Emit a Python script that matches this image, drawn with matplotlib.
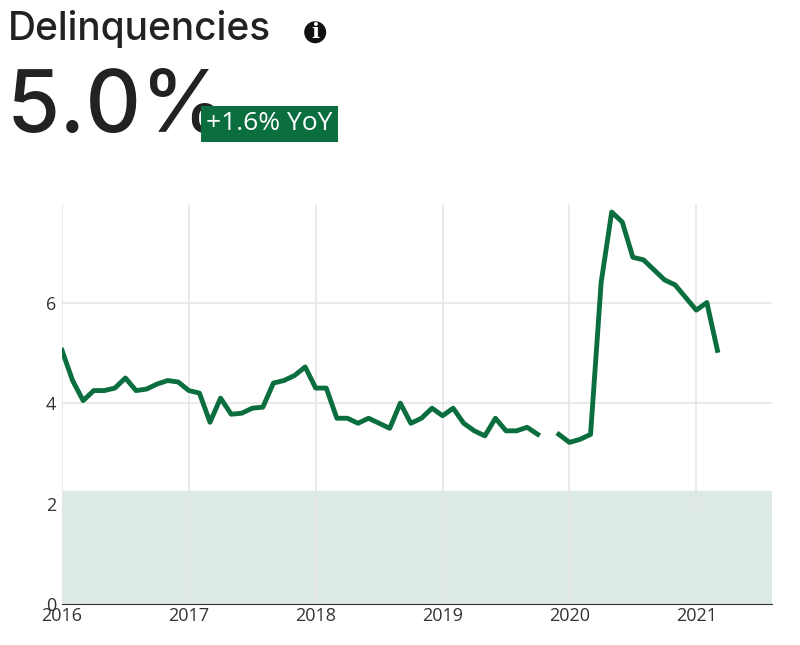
import numpy as np
import matplotlib
matplotlib.use("Agg")
import matplotlib.pyplot as plt
from matplotlib.patches import Circle

plt.rcParams['font.family'] = ['Open Sans', 'DejaVu Sans']

values = [5.05, 4.45, 4.05, 4.25, 4.25, 4.3, 4.5, 4.25, 4.28, 4.38, 4.45, 4.42,
          4.25, 4.2, 3.62, 4.1, 3.78, 3.8, 3.9, 3.92, 4.4, 4.45, 4.55, 4.72,
          4.3, 4.3, 3.7, 3.7, 3.6, 3.7, 3.6, 3.5, 4.0, 3.6, 3.7, 3.9,
          3.75, 3.9, 3.6, 3.45, 3.35, 3.7, 3.45, 3.45, 3.52, 3.38, np.nan, 3.38,
          3.22, 3.28, 3.38, 6.4, 7.8, 7.6, 6.9, 6.85, 6.65, 6.45, 6.35, 6.1,
          5.85, 6.0, 5.05]
x = 2016 + np.arange(len(values)) / 12.0
band_top = 2.25
green = '#0a6e3f'

fig = plt.figure(figsize=(8, 6.45), dpi=100)
ax = fig.add_axes([0.0775, 0.063, 0.888, 0.62])
ax.axhspan(0, band_top, color='#dbeae3', zorder=0)
ax.plot(x, values, color=green, lw=3.5, zorder=3)
ax.set_xlim(2016, 2021.6)
ax.set_ylim(0, 7.95)
ax.set_xticks([2016, 2017, 2018, 2019, 2020, 2021])
ax.set_yticks([0, 2, 4, 6])
ax.grid(color='#e6e6e6', lw=1.2)
ax.set_axisbelow(True)
for s in ['top', 'right', 'left']:
    ax.spines[s].set_visible(False)
ax.spines['bottom'].set_color('#333333')
ax.tick_params(length=0, labelsize=13, colors='#333333', pad=4)
ax.tick_params(axis='x', pad=2)

fig.text(0.01, 0.955, 'Delinquencies', fontsize=28, color='#222222', va='center',
         family=['Inter', 'DejaVu Sans'], fontweight='medium')
fig.patches.append(Circle((0.394 * 800, 0.95 * 645), 11, transform=None,
                          fc='#111111', ec='none'))
fig.text(0.394, 0.95, 'i', fontsize=15, color='white', ha='center', va='center',
         fontweight='bold', family=['DejaVu Serif'])
fig.text(0.008, 0.83, '5.0%', fontsize=62, color='#222222', va='center',
         family=['Inter', 'DejaVu Sans'], fontweight='medium')
fig.text(0.258, 0.808, '+1.6% YoY', fontsize=19, color='white', va='center',
         bbox=dict(boxstyle='square,pad=0.2', fc=green, ec='none'))
fig.savefig('out.png', dpi=100)
